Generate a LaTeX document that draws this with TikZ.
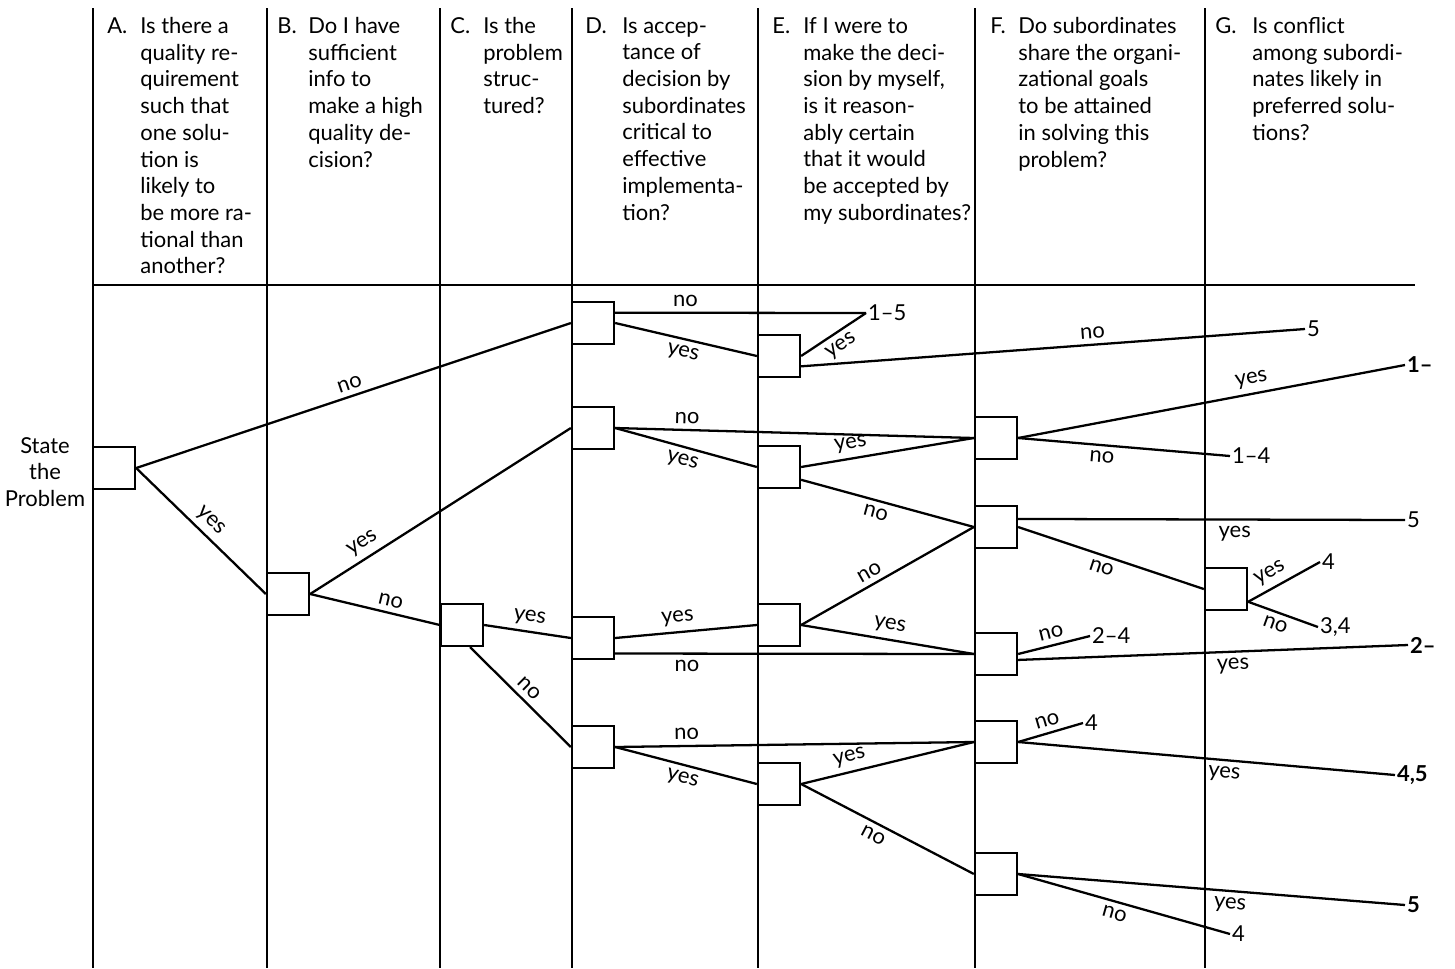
\documentclass[tikz,border=0pt]{standalone}
\usepackage{fontspec}
\setmainfont{Lato}
\usetikzlibrary{calc}

\begin{document}
\begin{tikzpicture}[x=0.02cm,y=-0.02cm]

    \tikzstyle{every node}=[font=\fontsize{12.5}{15.2}\selectfont]
    \tikzstyle{qbox}=[draw,rectangle,line width=1.3pt,minimum width=0.84cm,minimum height=0.84cm,inner sep=0pt]
    \tikzstyle{branch}=[line width=1.3pt]
    \tikzstyle{outcome}=[anchor=west,inner sep=1pt]
    \tikzstyle{lbl}=[sloped,inner sep=3pt]

    \useasboundingbox (0,0) rectangle (1455,968);

    % column rules
    \foreach \x in {93,267,440,572,758,975,1205} {
        \draw[line width=1.1pt] (\x,8) -- (\x,968);
    }
    \draw[line width=1.3pt] (93,285) -- (1415,285);

    % questions
    \foreach \l / \x / \y / \t in {
        A/107/140/{Is there a\\quality re-\\quirement\\such that\\one solu-\\tion is\\likely to\\be more ra-\\tional than\\another?},
        B/277/308/{Do I have\\sufficient\\info to\\make a high\\quality de-\\cision?},
        C/450/483/{Is the\\problem\\struc-\\tured?},
        D/585/622/{Is accep-\\tance of\\decision by\\subordinates\\critical to\\effective\\implementa-\\tion?},
        E/772/803/{If I were to\\make the deci-\\sion by myself,\\is it reason-\\ably certain\\that it would\\be accepted by\\my subordinates?},
        F/990/1018/{Do subordinates\\share the organi-\\zational goals\\to be attained\\in solving this\\problem?},
        G/1215/1252/{Is conflict\\among subordi-\\nates likely in\\preferred solu-\\tions?}} {
        \node[anchor=north west,inner sep=0pt] (l_\l) at (\x,17) {\l.};
        \node[anchor=north west,inner sep=0pt,align=left] (h_\l) at (\y,17) {\t};
    }

    \node[align=center,inner sep=0pt] (start) at (45,472) {State\\the\\Problem};

    % decision points
    \foreach \n / \x / \y in {s/114/468,b/288/594,c/462/625,
        d_1/593/323,d_2/593/428,d_3/593/638,d_4/593/747,
        e_1/779/356,e_2/779/467,e_3/779/625,e_4/779/784,
        f_1/996/438,f_2/996/527,f_3/996/654,f_4/996/742,f_5/996/874,
        g_1/1226/589} {
        \node[qbox] (\n) at (\x,\y) {};
    }

    % outcomes
    \node[outcome] (end_d1) at (866,313) {1--5};
    \node[outcome] (end_e1) at (1305,329) {5};
    \node[outcome,font=\fontsize{12.5}{15.2}\selectfont\bfseries] (end_f1a) at (1405,365) {1--};
    \node[outcome] (end_f1b) at (1230,456) {1--4};
    \node[outcome] (end_f2) at (1405,520) {5};
    \node[outcome] (end_g1a) at (1320,562) {4};
    \node[outcome] (end_g1b) at (1318,627) {3,4};
    \node[outcome] (end_f3a) at (1090,636) {2--4};
    \node[outcome,font=\fontsize{12.5}{15.2}\selectfont\bfseries] (end_f3b) at (1408,645) {2--};
    \node[outcome] (end_f4a) at (1083,723) {4};
    \node[outcome,font=\fontsize{12.5}{15.2}\selectfont\bfseries] (end_f4b) at (1395,775) {4,5};
    \node[outcome,font=\fontsize{12.5}{15.2}\selectfont\bfseries] (end_f5a) at (1405,905) {5};
    \node[outcome] (end_f5b) at (1230,934) {4};

    % branches A to E
    \draw[branch] (s.east) -- node[lbl,above] {no} (d_1.west);
    \draw[branch] (s.east) -- node[lbl,above] {yes} (b.west);
    \draw[branch] (b.east) -- node[lbl,above,pos=0.23] {yes} (d_2.west);
    \draw[branch] (b.east) -- node[lbl,above,pos=0.6] {no} (c.west);
    \draw[branch] (c.east) -- node[lbl,above] {yes} (d_3.west);
    \draw[branch] (c.-70) -- node[lbl,above] {no} (d_4.west);
    \draw[branch] (d_1.25) -- node[lbl,above,pos=0.28] {no} (end_d1.west);
    \draw[branch] (d_1.east) -- node[lbl,below] {yes} (e_1.west);
    \draw[branch] (e_1.east) -- node[lbl,below] {yes} (end_d1.west);
    \draw[branch] (e_1.-25) -- node[lbl,above,pos=0.58] {no} (end_e1.west);
    \draw[branch] (d_2.east) -- node[lbl,above,pos=0.2] {no} (f_1.west);
    \draw[branch] (d_2.east) -- node[lbl,below] {yes} (e_2.west);
    \draw[branch] (e_2.east) -- node[lbl,above,pos=0.3] {yes} (f_1.west);
    \draw[branch] (e_2.-30) -- node[lbl,below,pos=0.45] {no} (f_2.west);
    \draw[branch] (d_3.east) -- node[lbl,above,pos=0.45] {yes} (e_3.west);
    \draw[branch] (d_3.-35) -- node[lbl,below,pos=0.2] {no} (f_3.west);
    \draw[branch] (e_3.east) -- node[lbl,above,pos=0.43] {no} (f_2.west);
    \draw[branch] (e_3.east) -- node[lbl,above] {yes} (f_3.west);
    \draw[branch] (d_4.east) -- node[lbl,above,pos=0.2] {no} (f_4.west);
    \draw[branch] (d_4.east) -- node[lbl,below] {yes} (e_4.west);
    \draw[branch] (e_4.east) -- node[lbl,above,pos=0.3] {yes} (f_4.west);
    \draw[branch] (e_4.east) -- node[lbl,below,pos=0.45] {no} (f_5.west);

    % branches F and G
    \draw[branch] (f_1.east) -- node[lbl,above,pos=0.61] {yes} (end_f1a.west);
    \draw[branch] (f_1.east) -- node[lbl,below,pos=0.4] {no} (end_f1b.west);
    \draw[branch] (f_2.20) -- node[lbl,below,pos=0.56] {yes} (end_f2.west);
    \draw[branch] (f_2.east) -- node[lbl,below,pos=0.47] {no} (g_1.west);
    \draw[branch] (g_1.-30) -- node[lbl,above,pos=0.4] {yes} (end_g1a.west);
    \draw[branch] (g_1.-30) -- node[lbl,below,pos=0.45] {no} (end_g1b.west);
    \draw[branch] (f_3.east) -- node[lbl,above] {no} (end_f3a.west);
    \draw[branch] (f_3.-15) -- node[lbl,below,pos=0.55] {yes} (end_f3b.west);
    \draw[branch] (f_4.east) -- node[lbl,above] {no} (end_f4a.west);
    \draw[branch] (f_4.east) -- node[lbl,below,pos=0.55] {yes} (end_f4b.west);
    \draw[branch] (f_5.east) -- node[lbl,below,pos=0.55] {yes} (end_f5a.west);
    \draw[branch] (f_5.east) -- node[lbl,below,pos=0.47] {no} (end_f5b.west);

\end{tikzpicture}
\end{document}
